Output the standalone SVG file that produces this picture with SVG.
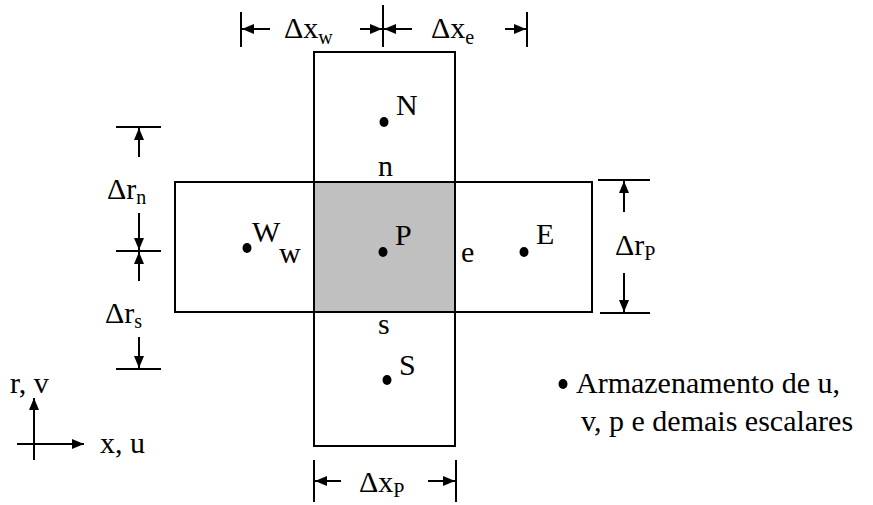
<svg xmlns="http://www.w3.org/2000/svg" width="873" height="505" viewBox="0 0 873 505">
<defs>
<marker id="ah" viewBox="0 0 12 10" refX="12" refY="5" markerWidth="12" markerHeight="10" markerUnits="userSpaceOnUse" orient="auto">
<path d="M0,0 L12,5 L0,10 Z" fill="#000"/>
</marker>
<style>
.cell{fill:#fff;stroke:#000;stroke-width:2}
.pcell{fill:#c0c0c0;stroke:#000;stroke-width:2}
.ln{stroke:#000;stroke-width:2;fill:none}
.ar{stroke:#000;stroke-width:2;fill:none;marker-end:url(#ah)}
.t{font-family:"Liberation Serif","Times New Roman",serif;font-size:30px;fill:#000}
.sub{font-size:20px}
.dot{fill:#000}
</style>
</defs>
<g id="cell-N"><rect class="cell" x="314" y="52" width="141" height="130"/></g>
<g id="cell-S"><rect class="cell" x="314" y="312" width="141" height="134"/></g>
<g id="cell-W"><rect class="cell" x="175" y="182" width="139" height="130"/></g>
<g id="cell-E"><rect class="cell" x="455" y="182" width="137" height="130"/></g>
<g id="cell-P"><rect class="pcell" x="314" y="182" width="141" height="130"/></g>

<g id="node-N"><ellipse class="dot" cx="384" cy="122" rx="4.5" ry="5"/><text class="t" x="396" y="115">N</text></g>
<g id="node-P"><ellipse class="dot" cx="383" cy="252" rx="4.5" ry="5"/><text class="t" x="395" y="245">P</text></g>
<g id="node-E"><ellipse class="dot" cx="524" cy="252" rx="4.5" ry="5"/><text class="t" x="536" y="244">E</text></g>
<g id="node-W"><ellipse class="dot" cx="247" cy="248" rx="4.5" ry="5"/><text class="t" x="252" y="242">W</text><text class="t" x="279" y="263">w</text></g>
<g id="node-S"><ellipse class="dot" cx="387" cy="380" rx="4.5" ry="5"/><text class="t" x="399" y="375">S</text></g>
<g id="face-n"><text class="t" x="378" y="176">n</text></g>
<g id="face-s"><text class="t" x="378" y="334">s</text></g>
<g id="face-e"><text class="t" x="461" y="262">e</text></g>

<g id="connectors">
<line class="ln" x1="241" y1="12" x2="241" y2="47"/>
<line class="ln" x1="383" y1="5" x2="383" y2="47"/>
<line class="ln" x1="527" y1="12" x2="527" y2="47"/>
<line class="ar" x1="270" y1="29" x2="242" y2="29"/>
<line class="ar" x1="360" y1="29" x2="382" y2="29"/>
<line class="ar" x1="412" y1="29" x2="384" y2="29"/>
<line class="ar" x1="505" y1="29" x2="526" y2="29"/>
<line class="ln" x1="116" y1="127" x2="161" y2="127"/>
<line class="ln" x1="116" y1="251" x2="161" y2="251"/>
<line class="ln" x1="116" y1="369" x2="161" y2="369"/>
<line class="ar" x1="139" y1="157" x2="139" y2="128"/>
<line class="ar" x1="139" y1="213" x2="139" y2="250"/>
<line class="ar" x1="139" y1="281" x2="139" y2="252"/>
<line class="ar" x1="139" y1="337" x2="139" y2="368"/>
<line class="ln" x1="598" y1="180" x2="650" y2="180"/>
<line class="ln" x1="600" y1="313" x2="650" y2="313"/>
<line class="ar" x1="624" y1="212" x2="624" y2="181"/>
<line class="ar" x1="624" y1="273" x2="624" y2="312"/>
<line class="ln" x1="314" y1="460" x2="314" y2="502"/>
<line class="ln" x1="456" y1="460" x2="456" y2="502"/>
<line class="ar" x1="341" y1="481" x2="315" y2="481"/>
<line class="ar" x1="428" y1="481" x2="455" y2="481"/>
<line class="ar" x1="34" y1="460" x2="34" y2="398"/>
<line class="ar" x1="17" y1="444" x2="84" y2="444"/>
</g>

<g id="labels">
<text class="t" x="284" y="38">Δx<tspan class="sub" dy="6">w</tspan></text>
<text class="t" x="431" y="38">Δx<tspan class="sub" dy="6">e</tspan></text>
<text class="t" x="107" y="199">Δr<tspan class="sub" dy="5">n</tspan></text>
<text class="t" x="105" y="323">Δr<tspan class="sub" dy="5">s</tspan></text>
<text class="t" x="615" y="255">Δr<tspan class="sub" dy="5">P</tspan></text>
<text class="t" x="359" y="492">Δx<tspan class="sub" dy="5">P</tspan></text>
<text class="t" x="10" y="393">r, v</text>
<text class="t" x="100" y="453">x, u</text>
</g>

<g id="legend">
<ellipse class="dot" cx="563" cy="384" rx="4.5" ry="5"/>
<text class="t" x="576" y="393">Armazenamento de u,</text>
<text class="t" x="581" y="431">v, p e demais escalares</text>
</g>
</svg>
